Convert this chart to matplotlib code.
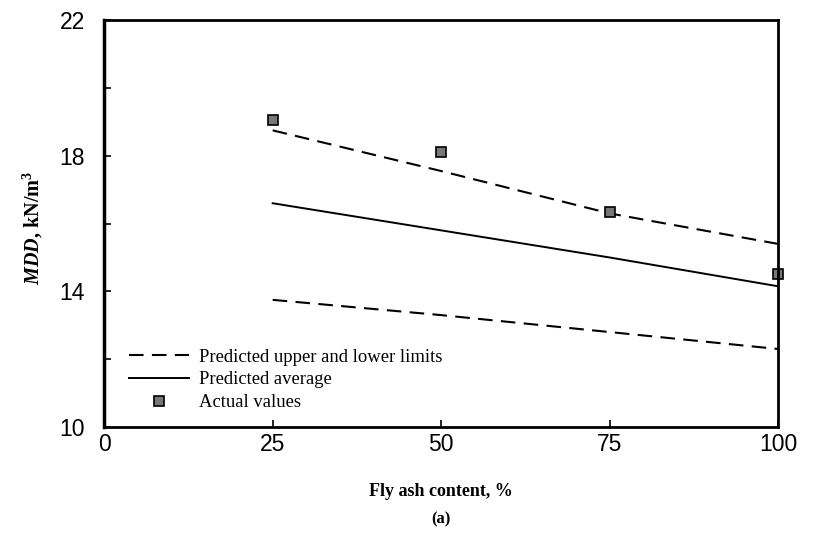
import numpy as np
import matplotlib.pyplot as plt
from matplotlib.ticker import FixedLocator

plt.rcParams['mathtext.fontset'] = 'custom'
plt.rcParams['mathtext.it'] = 'Liberation Serif:italic'
plt.rcParams['mathtext.bf'] = 'Liberation Serif:bold'
plt.rcParams['mathtext.bfit'] = 'Liberation Serif:bold:italic'
plt.rcParams['mathtext.rm'] = 'Liberation Serif'

# fly ash content, %
fly_ash = [25, 50, 75, 100]
# MDD values, kN/m3
upper = [18.75, 17.55, 16.3, 15.4]
average = [16.6, 15.8, 15.0, 14.15]
lower = [13.75, 13.3, 12.8, 12.3]
actual = [19.05, 18.1, 16.35, 14.5]

x_ticks = [0, 25, 50, 75, 100]
y_ticks = [10, 14, 18, 22]
y_minor = [12, 16, 20]

fig = plt.figure(figsize=(8.14, 5.46), dpi=100)
ax = fig.add_axes([0.128, 0.218, 0.828, 0.745])

dash = (7, 4)
l1, = ax.plot(fly_ash, upper, color='black', lw=1.5, dashes=dash)
ax.plot(fly_ash, lower, color='black', lw=1.5, dashes=dash)
l2, = ax.plot(fly_ash, average, color='black', lw=1.4)
l3, = ax.plot(fly_ash, actual, ls='none', marker='s', ms=7,
              mfc='#777777', mec='black', mew=1.2, clip_on=False)

ax.set_xlim(0, 100)
ax.set_ylim(10, 22)
ax.xaxis.set_major_locator(FixedLocator(x_ticks))
ax.yaxis.set_major_locator(FixedLocator(y_ticks))
ax.yaxis.set_minor_locator(FixedLocator(y_minor))
ax.tick_params(which='both', direction='in', length=5, width=1.2, labelsize=16.5)
ax.tick_params(axis='x', pad=4)
ax.tick_params(axis='y', pad=14)
for lab in ax.get_xticklabels() + ax.get_yticklabels():
    lab.set_family('Liberation Sans')
for s in ax.spines.values():
    s.set_linewidth(2)
ax.spines['left'].set_linewidth(2.5)

ax.set_xlabel('Fly ash content, %', family='Liberation Serif',
              fontweight='bold', fontsize=13)
ax.xaxis.set_label_coords(0.5, -0.138)
ax.set_ylabel(r'$\mathbfit{MDD}$, kN/m$^\mathbf{3}$', family='Liberation Serif',
              fontweight='bold', fontsize=14.5)
ax.yaxis.set_label_coords(-0.088, 0.49)
fig.text(0.542, 0.048, '(a)', family='Liberation Serif', fontweight='bold',
         fontsize=12, ha='center', va='center')

ax.legend([l1, l2, l3],
          ['Predicted upper and lower limits', 'Predicted average', 'Actual values'],
          loc='lower left', bbox_to_anchor=(0.012, -0.002), frameon=False,
          prop={'family': 'Liberation Serif', 'size': 13.4},
          handlelength=3.2, handletextpad=0.55, labelspacing=0.3)

plt.savefig('out.png')
